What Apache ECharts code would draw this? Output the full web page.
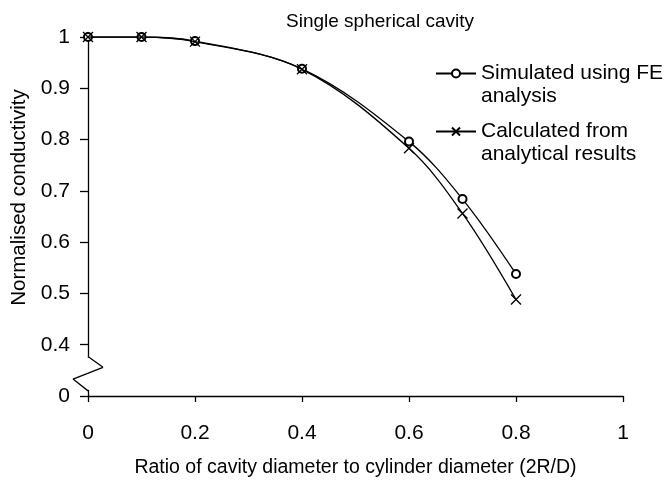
<!DOCTYPE html>
<html>
<head>
<meta charset="utf-8">
<script src="https://cdn.jsdelivr.net/npm/echarts@6/dist/echarts.min.js"></script>
<style>
html,body{margin:0;padding:0;background:#fff;}
#chart{width:670px;height:483px;}
</style>
</head>
<body>
<div id="chart"></div>
<script>
// Data
const xValues = [0, 0.1, 0.2, 0.4, 0.6, 0.7, 0.8];
const feValues = [1, 1, 0.992, 0.938, 0.796, 0.684, 0.538];
const analyticalValues = [1, 1, 0.991, 0.937, 0.783, 0.656, 0.488];
const xTickLabels = ['0', '0.2', '0.4', '0.6', '0.8', '1'];
const yTickLabels = ['0', '0.4', '0.5', '0.6', '0.7', '0.8', '0.9', '1'];
const seriesNames = ['Simulated using FE analysis', 'Calculated from analytical results'];
const legendTexts = ['\nSimulated using FE\nanalysis', '\nCalculated from\nanalytical results'];

const FONT = 'Liberation Sans, Arial, sans-serif';
const chart = echarts.init(document.getElementById('chart'), null, {renderer: 'canvas'});

const pairs = (ys) => xValues.map((x, i) => [x, ys[i]]);
const yMin = 0.3; // position where the broken axis shows "0"

const option = {
  animation: false,
  backgroundColor: '#fff',
  title: {
    text: 'Single spherical cavity',
    left: 375, top: 7, textAlign: 'center',
    textStyle: {fontFamily: FONT, fontSize: 19, fontWeight: 'normal', color: '#000'}
  },
  legend: {
    orient: 'vertical',
    left: 430, top: 34,
    itemWidth: 40, itemHeight: 10, itemGap: -11,
    data: seriesNames,
    formatter: (n) => legendTexts[seriesNames.indexOf(n)],
    textStyle: {fontFamily: FONT, fontSize: 21, color: '#000', lineHeight: 23}
  },
  grid: {left: 88, right: 47, top: 37, bottom: 83, containLabel: false},
  xAxis: {
    type: 'value', min: 0, max: 1, interval: 0.2,
    name: 'Ratio of cavity diameter to cylinder diameter (2R/D)',
    nameLocation: 'middle', nameGap: 62,
    nameTextStyle: {fontFamily: FONT, fontSize: 19.5, color: '#000'},
    axisLine: {onZero: false, lineStyle: {color: '#000', width: 1.3}},
    axisTick: {length: 6, lineStyle: {color: '#000', width: 1.3}},
    axisLabel: {
      margin: 27, fontFamily: FONT, fontSize: 21, color: '#000',
      formatter: (v) => xTickLabels[Math.round(v / 0.2)]
    },
    splitLine: {show: false}
  },
  yAxis: {
    type: 'value', min: yMin, max: 1, interval: 0.1,
    name: 'Normalised conductivity',
    nameLocation: 'middle', nameGap: 58,
    nameTextStyle: {fontFamily: FONT, fontSize: 20.5, color: '#000', padding: [0, 0, 0, 38]},
    axisLine: {show: true, lineStyle: {color: '#000', width: 1.3}},
    axisTick: {show: true, length: 8, lineStyle: {color: '#000', width: 1.3}},
    axisLabel: {
      margin: 18, fontFamily: FONT, fontSize: 21, color: '#000',
      formatter: (v) => yTickLabels[Math.round((v - yMin) / 0.1)]
    },
    splitLine: {show: false}
  },
  series: [
    {
      name: seriesNames[0], type: 'line', data: pairs(feValues),
      smooth: 0.35, symbol: 'emptyCircle', symbolSize: 8,
      lineStyle: {color: '#000', width: 1.3},
      itemStyle: {color: '#000', borderColor: '#000', borderWidth: 1.3},
      z: 2
    },
    {
      name: seriesNames[1], type: 'line', data: pairs(analyticalValues),
      smooth: 0.35, symbol: 'path://M0,0L10,10M10,0L0,10', symbolSize: 10,
      lineStyle: {color: '#000', width: 1.3},
      itemStyle: {color: '#000', borderColor: '#000', borderWidth: 1.3},
      z: 3
    }
  ]
};
chart.setOption(option);

// Axis break (zigzag) on the y axis between the "0" and "0.4" ticks
const p = (y) => chart.convertToPixel({gridIndex: 0}, [0, y]);
const a = p(0.377), b = p(0.356), c = p(0.333), d = p(0.31);
const ax = a[0];
chart.setOption({
  graphic: [
    {type: 'rect', shape: {x: ax - 3, y: a[1] + 1, width: 6, height: d[1] - a[1] - 2}, style: {fill: '#fff'}, z: 100},
    {type: 'line', shape: {x1: ax, y1: a[1], x2: ax + 15, y2: b[1]}, style: {stroke: '#000', lineWidth: 1.3}, z: 101},
    {type: 'line', shape: {x1: ax + 15, y1: b[1], x2: ax - 15, y2: c[1]}, style: {stroke: '#000', lineWidth: 1.3}, z: 101},
    {type: 'line', shape: {x1: ax - 15, y1: c[1], x2: ax, y2: d[1]}, style: {stroke: '#000', lineWidth: 1.3}, z: 101}
  ]
});
</script>
</body>
</html>
